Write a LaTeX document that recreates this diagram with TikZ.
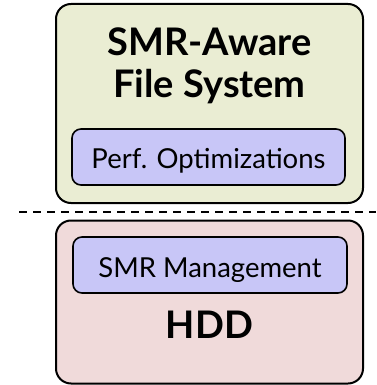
\documentclass[tikz,border=0pt]{standalone}
\usepackage{fontspec}
\setmainfont{Lato}
\definecolor{fsgreen}{RGB}{234,237,211}
\definecolor{hddpink}{RGB}{240,218,218}
\definecolor{partblue}{RGB}{200,198,247}
\begin{document}
\begin{tikzpicture}[x=1pt,y=-1pt]
\tikzstyle{every node}+=[inner sep=0pt]
\tikzstyle{layer}=[draw=black, line width=2pt, rounded corners=15pt]
\tikzstyle{part}=[draw=black, line width=1.6pt, rounded corners=9pt, fill=partblue]
\tikzstyle{bigtext}=[font=\fontsize{38}{42}\selectfont\bfseries, anchor=base]
\tikzstyle{smalltext}=[font=\fontsize{27.5}{32}\selectfont, anchor=base]
\useasboundingbox (0,0) rectangle (376,385);
\node [layer, fill=fsgreen, minimum width=307pt, minimum height=199pt] (fs) at (209.5,103.5) {};
\node [bigtext] (fs1) at (209.5,56) {SMR-Aware};
\node [bigtext] (fs2) at (209.5,98) {File System};
\node [part, minimum width=273pt, minimum height=56pt] (opt) at (208.5,157) {};
\node [smalltext] (optlabel) at (208.5,168) {Perf. Optimizations};
\coordinate (cutl) at (19,211.5);
\coordinate (cutr) at (376,211.5);
\draw [black, line width=2pt, dash pattern=on 8pt off 6pt] (cutl) -- (cutr);
\node [layer, fill=hddpink, minimum width=307pt, minimum height=163pt] (hdd) at (209.5,302) {};
\node [part, minimum width=274pt, minimum height=56pt] (smr) at (210,265) {};
\node [smalltext] (smrlabel) at (210,277) {SMR Management};
\node [bigtext] (hddlabel) at (209.5,338) {HDD};
\end{tikzpicture}
\end{document}
